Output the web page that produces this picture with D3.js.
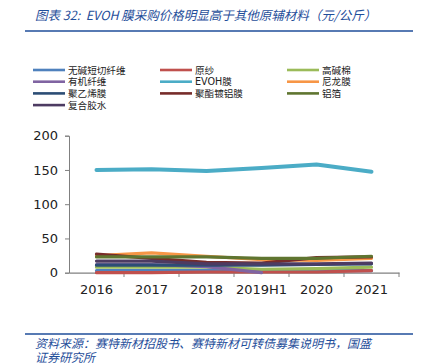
<!DOCTYPE html>
<html><head><meta charset="utf-8">
<script src="https://cdn.jsdelivr.net/npm/d3@7/dist/d3.min.js"></script>
<style>
body{margin:0;background:#fff;}
svg{display:block;}
</style></head>
<body>
<svg id="chart" width="424" height="364"></svg>
<script>
const categories = ['2016','2017','2018','2019H1','2020','2021'];
const seriesNames = ['无碱短切纤维','原纱','高碱棉','有机纤维','EVOH膜','尼龙膜','聚乙烯膜','聚酯镀铝膜','铝箔','复合胶水'];
const seriesColors = ['#4f81bd','#c0504d','#9bbb59','#8064a2','#4bacc6','#f79646','#2c4d75','#772c2a','#5f7530','#4d3b62'];
const s无碱短切纤维 = [3,3,3,3,3,3];
const s原纱 = [0,0,1,1,1,3];
const s高碱棉 = [8,8,8,5,6,8];
const s有机纤维 = [12,12,9,0,null,null];
const sEVOH膜 = [150,151,148.5,153,158,147.5];
const s尼龙膜 = [25,29,24,19,18,21];
const s聚乙烯膜 = [11,11,11,11,12,13];
const s聚酯镀铝膜 = [27,21,15,14,22,23];
const s铝箔 = [23,23,23,21,21,24];
const s复合胶水 = [17,17,13,13,13,14];
const seriesValues = [s无碱短切纤维,s原纱,s高碱棉,s有机纤维,sEVOH膜,s尼龙膜,s聚乙烯膜,s聚酯镀铝膜,s铝箔,s复合胶水];
const yTicks = [0,50,100,150,200];
const titleText = '图表 32:  EVOH 膜采购价格明显高于其他原辅材料（元/公斤）';
const sourceLines = ['资料来源：赛特新材招股书、赛特新材可转债募集说明书，国盛','证券研究所'];

const svg = d3.select('#chart');
const blue = '#1f4e9a';
const cjk = '"Noto Sans CJK SC", sans-serif';
const mixed = '"DejaVu Sans", "Noto Sans CJK SC", sans-serif';

// Title
svg.append('text').attr('x',35).attr('y',20)
  .attr('font-family',cjk).attr('font-size',12.5).attr('font-style','italic')
  .style('white-space','pre')
  .attr('fill',blue).text(titleText);
svg.append('line').attr('x1',25).attr('x2',413).attr('y1',31).attr('y2',31)
  .attr('stroke',blue).attr('stroke-width',1.5);

// Legend
const legCols = [33,160,287];
const legRows = [70,81.7,93.4,105.1];
seriesNames.forEach((n,i)=>{
  const cx = legCols[i%3], cy = legRows[Math.floor(i/3)];
  svg.append('line').attr('x1',cx).attr('x2',cx+32).attr('y1',cy).attr('y2',cy)
    .attr('stroke',seriesColors[i]).attr('stroke-width',2.6);
  svg.append('text').attr('x',cx+35).attr('y',cy+3.6)
    .attr('font-family',mixed).attr('font-size',9.6).attr('fill','#222').text(n);
});

// Scales
const x = d3.scaleBand().domain(categories).range([69,399]);
const y = d3.scaleLinear().domain([0,200]).range([272.7,135.7]);
const cx = c => x(c) + x.bandwidth()/2;

// Y axis
const yAxis = svg.append('g').attr('transform','translate(69,0)')
  .call(d3.axisLeft(y).tickValues(yTicks).tickSize(4).tickPadding(7));
yAxis.select('.domain').attr('stroke','#808080');
yAxis.selectAll('.tick line').attr('stroke','#808080');
yAxis.selectAll('.tick text').attr('font-family','"DejaVu Sans", Verdana, sans-serif')
  .attr('font-size',13).attr('fill','#222');

// X axis
const xAxis = svg.append('g').attr('transform','translate(0,272.7)')
  .call(d3.axisBottom(x).tickSize(0).tickPadding(12));
xAxis.select('.domain').attr('stroke','#808080').attr('stroke-width',1.2);
xAxis.selectAll('.tick text').attr('font-family','"DejaVu Sans", Verdana, sans-serif')
  .attr('font-size',13).attr('fill','#222');
const bounds = categories.map(c=>x(c)+x.bandwidth());
svg.append('g').selectAll('line').data(bounds).join('line')
  .attr('x1',d=>d).attr('x2',d=>d).attr('y1',272.7).attr('y2',277)
  .attr('stroke','#808080');

// Lines
const lineGen = d3.line().defined(d=>d.v!=null).x(d=>cx(d.c)).y(d=>y(d.v)).curve(d3.curveLinear);
seriesValues.forEach((vals,i)=>{
  const pts = categories.map((c,j)=>({c, v: vals[j]}));
  svg.append('path').attr('d',lineGen(pts)).attr('fill','none')
    .attr('stroke',seriesColors[i]).attr('stroke-width', i===4?4:3.2)
    .attr('stroke-linejoin','round').attr('stroke-linecap','round');
});

// Bottom
svg.append('line').attr('x1',25).attr('x2',413).attr('y1',334).attr('y2',334)
  .attr('stroke',blue).attr('stroke-width',1.5);
sourceLines.forEach((t,i)=>{
  svg.append('text').attr('x',35).attr('y',347.5+i*14.2)
    .attr('font-family',mixed).attr('font-size',12).attr('font-style','italic')
    .attr('fill',blue).text(t);
});
</script>
</body></html>
